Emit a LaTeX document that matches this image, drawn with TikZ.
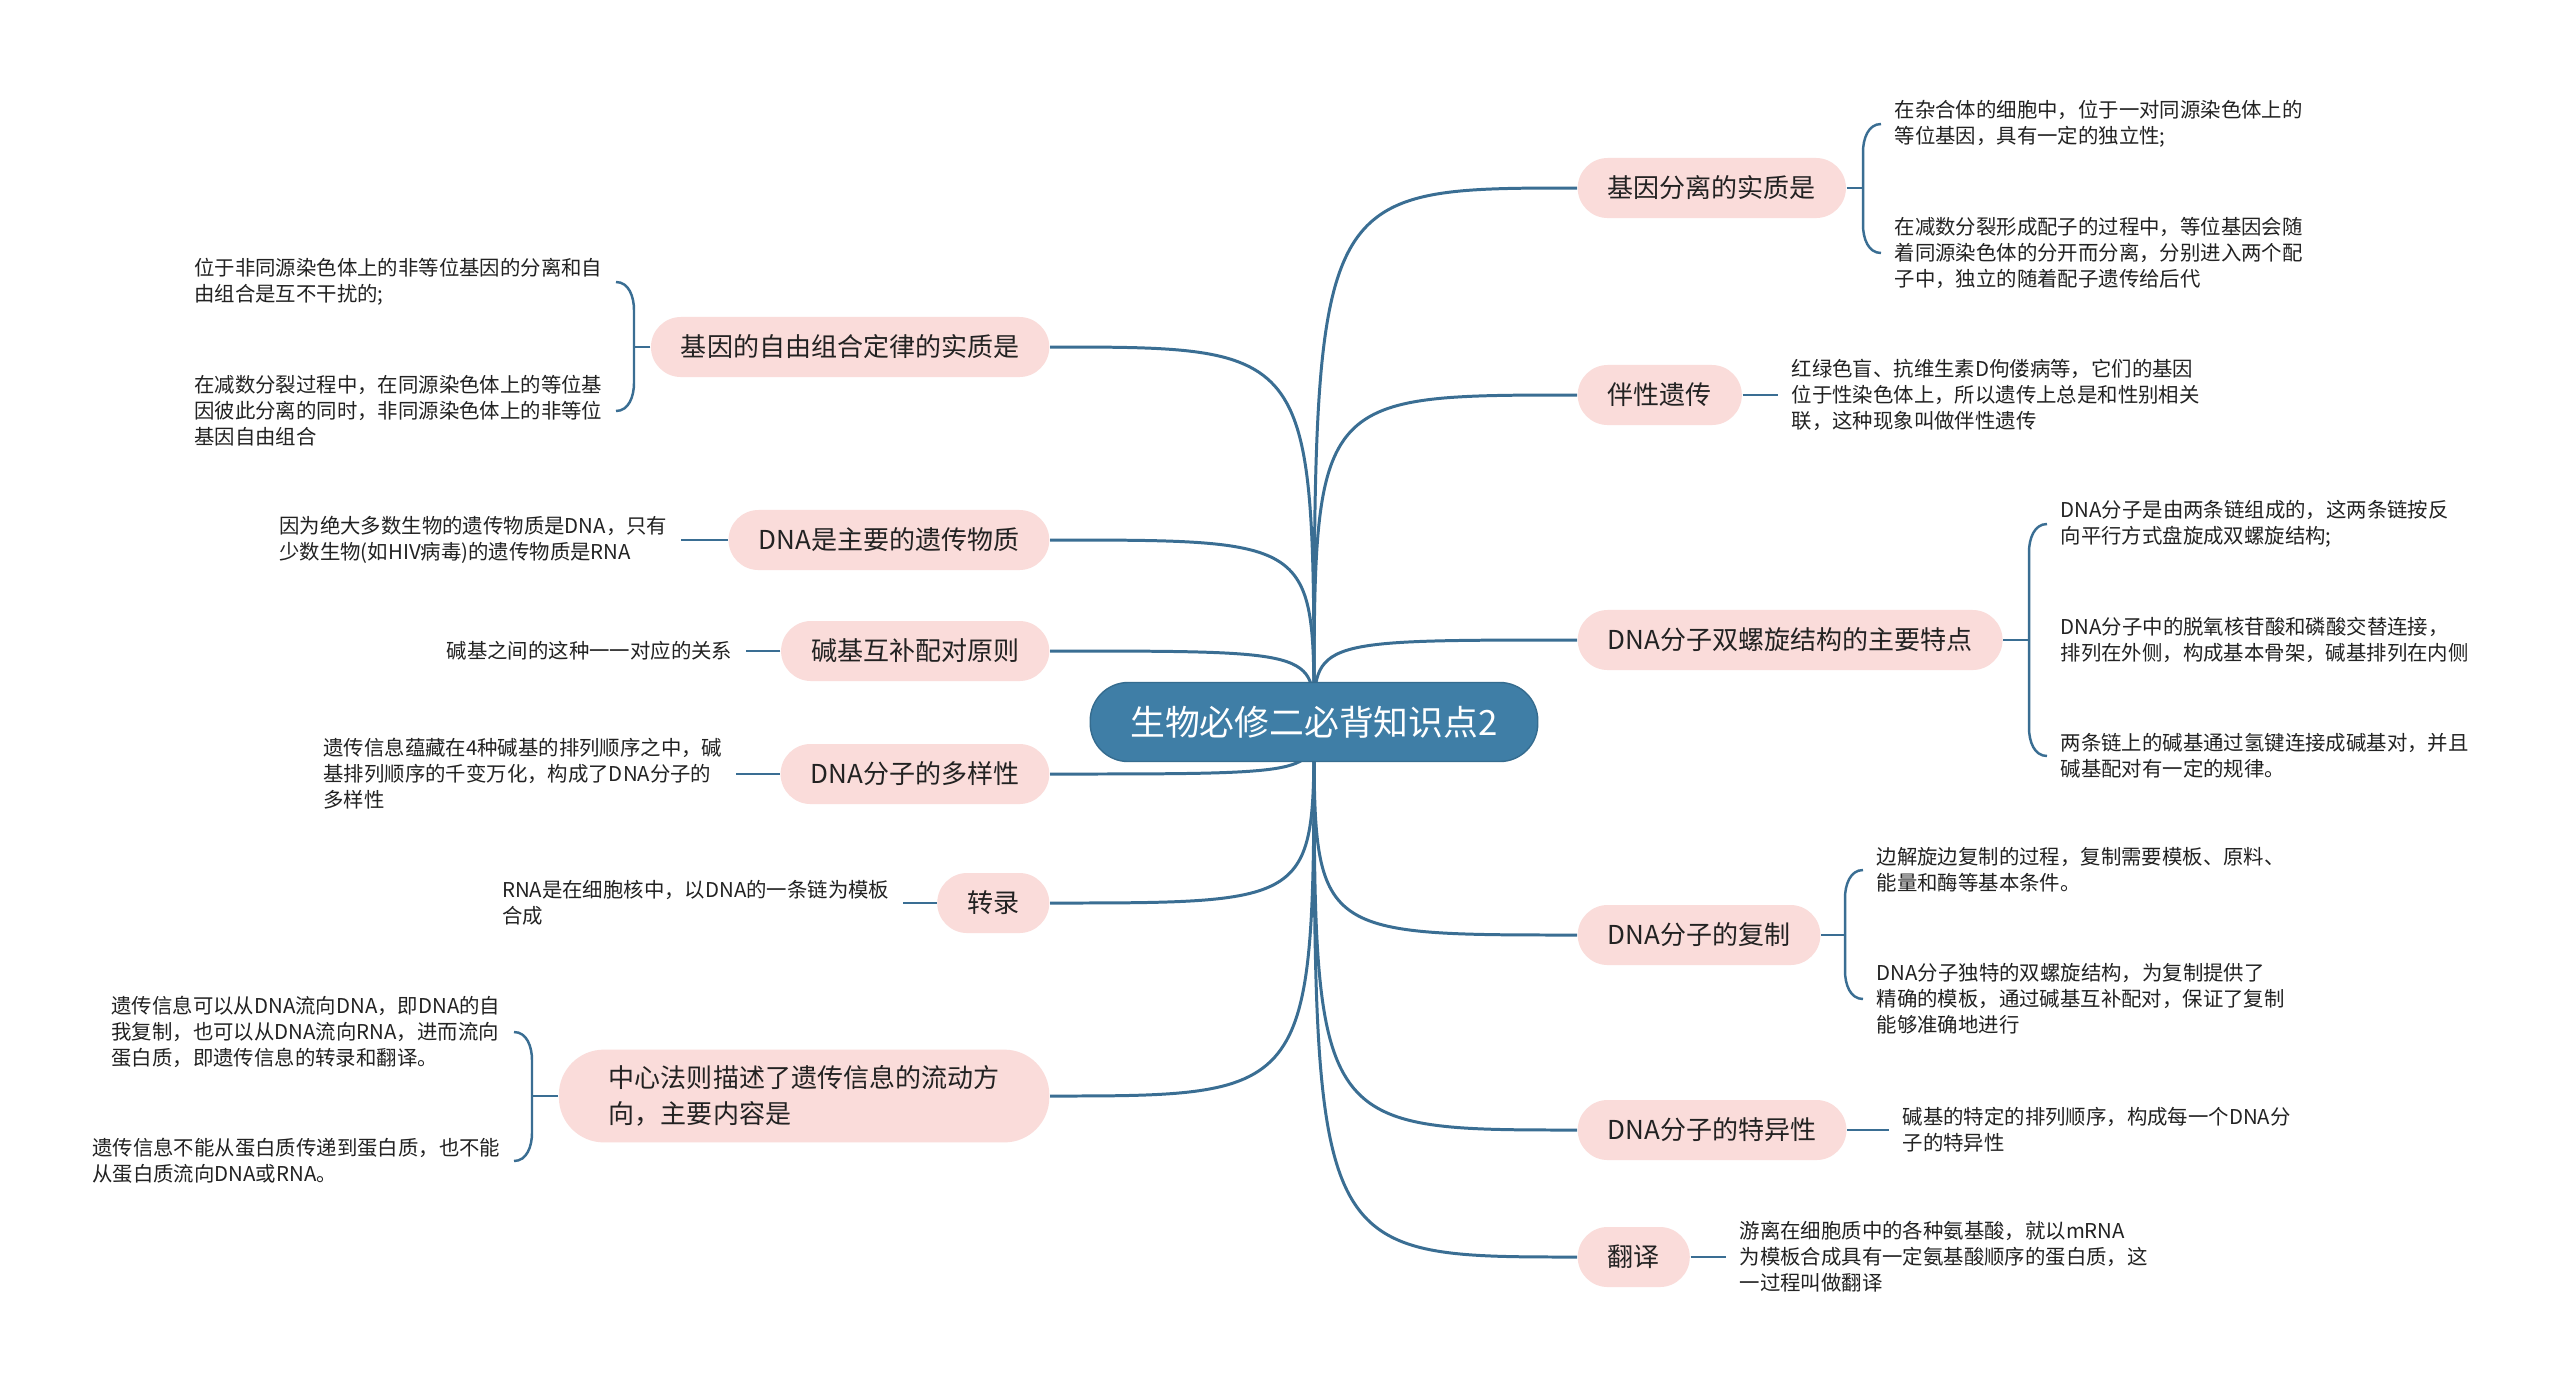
\documentclass[tikz,border=0pt]{standalone}
\usepackage{fontspec}
\setmainfont{Noto Sans CJK SC}
\usetikzlibrary{calc,backgrounds}
\definecolor{rootc}{HTML}{3F7EA6}
\definecolor{rootdc}{HTML}{356C8F}
\definecolor{linec}{HTML}{3A6E93}
\definecolor{pinkc}{HTML}{FADCDA}
\definecolor{textc}{HTML}{222222}
\tikzset{
  root/.style={draw=rootdc,line width=0.4pt,fill=rootc,text=white,rounded corners=0.38cm,minimum height=0.79cm,inner xsep=0.4cm,font=\fontsize{9.9}{12}\selectfont},
  branch/.style={fill=pinkc,text=textc,rounded corners=0.3cm,minimum height=0.6cm,inner xsep=0.3cm,inner ysep=0.16cm,align=left,font=\fontsize{7.4}{10.2}\selectfont},
  leaf/.style={text=textc,align=left,inner xsep=0.13cm,inner ysep=0pt,font=\fontsize{5.8}{7.4}\selectfont},
  edge/.style={draw=linec,line width=0.85pt},
  link/.style={draw=linec,line width=0.7pt},
}
% brace from a box to two leaves (right side / left side)
\newcommand{\bracR}[3]{%
  \draw[link] (#1.east) -- ($(#1.east -| #2.west)+(-18,0)$);
  \draw[link] (#2.west) to[out=180,in=90] ++(-18,28) -- ($(#3.west)+(-18,-28)$) to[out=-90,in=180] (#3.west);}
\newcommand{\bracL}[3]{%
  \draw[link] (#1.west) -- ($(#1.west -| #2.east)+(18,0)$);
  \draw[link] (#2.east) to[out=0,in=90] ++(18,28) -- ($(#3.east)+(18,-28)$) to[out=-90,in=0] (#3.east);}
\begin{document}
\begin{tikzpicture}[x=0.01cm,y=-0.01cm]
  \useasboundingbox (0,0) rectangle (2560,1393);
  \node[root] (root) at (1314,722) {生物必修二必背知识点2};
  % right branches
  \node[branch,anchor=west] (r1) at (1577,188) {基因分离的实质是};
  \node[branch,anchor=west] (r2) at (1577,395) {伴性遗传};
  \node[branch,anchor=west] (r3) at (1577,640) {DNA分子双螺旋结构的主要特点};
  \node[branch,anchor=west] (r4) at (1577,935) {DNA分子的复制};
  \node[branch,anchor=west] (r5) at (1577,1130) {DNA分子的特异性};
  \node[branch,anchor=west] (r6) at (1577,1257) {翻译};
  % left branches
  \node[branch,anchor=east] (l1) at (1050,347) {基因的自由组合定律的实质是};
  \node[branch,anchor=east] (l2) at (1050,540) {DNA是主要的遗传物质};
  \node[branch,anchor=east] (l3) at (1050,651) {碱基互补配对原则};
  \node[branch,anchor=east] (l4) at (1050,774) {DNA分子的多样性};
  \node[branch,anchor=east] (l5) at (1050,903) {转录};
  \node[branch,anchor=east,inner xsep=0.5cm,rounded corners=0.45cm] (l6) at (1050,1096) {中心法则描述了遗传信息的流动方\\向，主要内容是};
  % right leaves
  \node[leaf,anchor=west] (r1a) at (1881,124) {在杂合体的细胞中，位于一对同源染色体上的\\等位基因，具有一定的独立性;};
  \node[leaf,anchor=west] (r1b) at (1881,253) {在减数分裂形成配子的过程中，等位基因会随\\着同源染色体的分开而分离，分别进入两个配\\子中，独立的随着配子遗传给后代};
  \node[leaf,anchor=west] (r2a) at (1778,395) {红绿色盲、抗维生素D佝偻病等，它们的基因\\位于性染色体上，所以遗传上总是和性别相关\\联，这种现象叫做伴性遗传};
  \node[leaf,anchor=west] (r3a) at (2047,524) {DNA分子是由两条链组成的，这两条链按反\\向平行方式盘旋成双螺旋结构;};
  \node[leaf,anchor=west] (r3b) at (2047,640) {DNA分子中的脱氧核苷酸和磷酸交替连接，\\排列在外侧，构成基本骨架，碱基排列在内侧};
  \node[leaf,anchor=west] (r3c) at (2047,756) {两条链上的碱基通过氢键连接成碱基对，并且\\碱基配对有一定的规律。};
  \node[leaf,anchor=west] (r4a) at (1863,870) {边解旋边复制的过程，复制需要模板、原料、\\能量和酶等基本条件。};
  \node[leaf,anchor=west] (r4b) at (1863,999) {DNA分子独特的双螺旋结构，为复制提供了\\精确的模板，通过碱基互补配对，保证了复制\\能够准确地进行};
  \node[leaf,anchor=west] (r5a) at (1889,1130) {碱基的特定的排列顺序，构成每一个DNA分\\子的特异性};
  \node[leaf,anchor=west] (r6a) at (1726,1257) {游离在细胞质中的各种氨基酸，就以mRNA\\为模板合成具有一定氨基酸顺序的蛋白质，这\\一过程叫做翻译};
  % left leaves
  \node[leaf,anchor=east] (l1a) at (616,282) {位于非同源染色体上的非等位基因的分离和自\\由组合是互不干扰的;};
  \node[leaf,anchor=east] (l1b) at (616,411) {在减数分裂过程中，在同源染色体上的等位基\\因彼此分离的同时，非同源染色体上的非等位\\基因自由组合};
  \node[leaf,anchor=east] (l2a) at (681,540) {因为绝大多数生物的遗传物质是DNA，只有\\少数生物(如HIV病毒)的遗传物质是RNA};
  \node[leaf,anchor=east] (l3a) at (746,651) {碱基之间的这种一一对应的关系};
  \node[leaf,anchor=east] (l4a) at (736,774) {遗传信息蕴藏在4种碱基的排列顺序之中，碱\\基排列顺序的千变万化，构成了DNA分子的\\多样性};
  \node[leaf,anchor=east] (l5a) at (903,903) {RNA是在细胞核中，以DNA的一条链为模板\\合成};
  \node[leaf,anchor=east] (l6a) at (514,1032) {遗传信息可以从DNA流向DNA，即DNA的自\\我复制，也可以从DNA流向RNA，进而流向\\蛋白质，即遗传信息的转录和翻译。};
  \node[leaf,anchor=east] (l6b) at (514,1161) {遗传信息不能从蛋白质传递到蛋白质，也不能\\从蛋白质流向DNA或RNA。};
  % connectors to leaves
  \bracR{r1}{r1a}{r1b}
  \draw[link] (r2.east) -- (r2a.west);
  \bracR{r3}{r3a}{r3c}
  \bracR{r4}{r4a}{r4b}
  \draw[link] (r5.east) -- (r5a.west);
  \draw[link] (r6.east) -- (r6a.west);
  \bracL{l1}{l1a}{l1b}
  \draw[link] (l2.west) -- (l2a.east);
  \draw[link] (l3.west) -- (l3a.east);
  \draw[link] (l4.west) -- (l4a.east);
  \draw[link] (l5.west) -- (l5a.east);
  \bracL{l6}{l6a}{l6b}
  \begin{scope}[on background layer]
    \fill[white] (0,0) rectangle (2560,1393);
    \foreach \b in {r1,r2,r3,r4,r5,r6}
      \draw[edge] (root.center) .. controls (root.center |- \b.west) .. (\b.west);
    \foreach \b in {l1,l2,l3,l4,l5,l6}
      \draw[edge] (root.center) .. controls (root.center |- \b.east) .. (\b.east);
  \end{scope}
\end{tikzpicture}
\end{document}
